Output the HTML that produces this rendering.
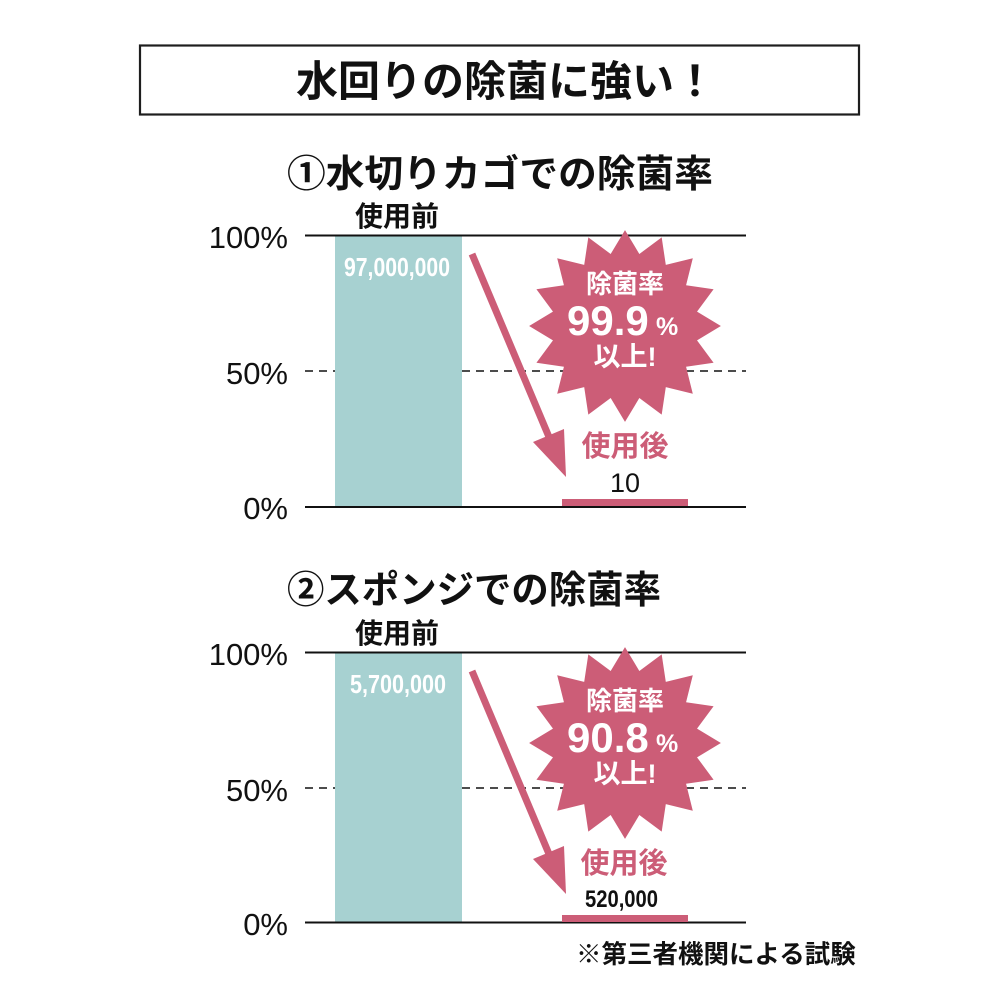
<!DOCTYPE html>
<html>
<head>
<meta charset="utf-8">
<style>
  html, body { margin: 0; padding: 0; background: #ffffff; }
  svg { display: block; }
  .jp { font-family: "Liberation Sans", "Noto Sans CJK JP", sans-serif; font-weight: 700; }
  .num { font-family: "Liberation Sans", sans-serif; }
</style>
</head>
<body>
<svg width="1000" height="1000" viewBox="0 0 1000 1000" xmlns="http://www.w3.org/2000/svg">
  <rect x="0" y="0" width="1000" height="1000" fill="#ffffff"/>

  <!-- Title box -->
  <rect x="140" y="45.5" width="719" height="69" fill="none" stroke="#1e1e1e" stroke-width="2.2"/>
  <text class="jp" x="296" y="96" font-size="42" fill="#111">水回りの除菌に強い！</text>

  <!-- ===== Chart 1 ===== -->
  <text class="jp" x="287" y="187" font-size="38" fill="#111" textLength="426" lengthAdjust="spacingAndGlyphs">①水切りカゴでの除菌率</text>

  <rect x="335" y="236" width="127" height="271" fill="#a7d1d1"/>
  <line x1="305" y1="235.5" x2="746" y2="235.5" stroke="#111" stroke-width="2"/>
  <line x1="305" y1="371" x2="335" y2="371" stroke="#111" stroke-width="1.6" stroke-dasharray="8,6"/>
  <line x1="462" y1="371" x2="746" y2="371" stroke="#111" stroke-width="1.6" stroke-dasharray="8,6"/>
  <line x1="305" y1="507" x2="746" y2="507" stroke="#111" stroke-width="2"/>

  <text class="num" x="288" y="248" font-size="31" text-anchor="end" fill="#111">100%</text>
  <text class="num" x="288" y="384" font-size="31" text-anchor="end" fill="#111">50%</text>
  <text class="num" x="288" y="519" font-size="31" text-anchor="end" fill="#111">0%</text>

  <text class="jp" x="397" y="226" font-size="28" text-anchor="middle" fill="#111">使用前</text>
  <text class="num" x="344" y="276" font-size="26" font-weight="700" fill="#ffffff" textLength="106" lengthAdjust="spacingAndGlyphs">97,000,000</text>

  <rect x="562" y="499" width="126" height="7" fill="#cc5d77"/>
  <text class="jp" x="625" y="456" font-size="29" text-anchor="middle" fill="#cc5d77">使用後</text>
  <text class="num" x="625" y="492" font-size="27" text-anchor="middle" fill="#111">10</text>

  <line x1="472" y1="254" x2="549" y2="437" stroke="#cc5d77" stroke-width="7"/>
  <polygon points="564,429 566,477 533,442" fill="#cc5d77"/>

  <polygon transform="translate(625,326) scale(1.02)" fill="#cc5d77"
    points="0,-94 14.05,-70.62 35.97,-86.84 40,-59.87 66.47,-66.47 59.87,-40 86.84,-35.97 70.62,-14.05 94,0 70.62,14.05 86.84,35.97 59.87,40 66.47,66.47 40,59.87 35.97,86.84 14.05,70.62 0,94 -14.05,70.62 -35.97,86.84 -40,59.87 -66.47,66.47 -59.87,40 -86.84,35.97 -70.62,14.05 -94,0 -70.62,-14.05 -86.84,-35.97 -59.87,-40 -66.47,-66.47 -40,-59.87 -35.97,-86.84 -14.05,-70.62"/>
  <text class="jp" x="625" y="293" font-size="26" text-anchor="middle" fill="#ffffff">除菌率</text>
  <text class="num" x="567" y="335" font-size="42" font-weight="700" fill="#ffffff">99.9</text>
  <text class="num" x="656" y="335" font-size="25" font-weight="700" fill="#ffffff">%</text>
  <text class="jp" x="625" y="366" font-size="27" text-anchor="middle" fill="#ffffff">以上!</text>

  <!-- ===== Chart 2 ===== -->
  <text class="jp" x="287" y="603" font-size="38" fill="#111" textLength="374" lengthAdjust="spacingAndGlyphs">②スポンジでの除菌率</text>

  <rect x="335" y="653" width="127" height="269" fill="#a7d1d1"/>
  <line x1="305" y1="652.5" x2="746" y2="652.5" stroke="#111" stroke-width="2"/>
  <line x1="305" y1="788" x2="335" y2="788" stroke="#111" stroke-width="1.6" stroke-dasharray="8,6"/>
  <line x1="462" y1="788" x2="746" y2="788" stroke="#111" stroke-width="1.6" stroke-dasharray="8,6"/>
  <line x1="305" y1="922.5" x2="746" y2="922.5" stroke="#111" stroke-width="2"/>

  <text class="num" x="288" y="665" font-size="31" text-anchor="end" fill="#111">100%</text>
  <text class="num" x="288" y="801" font-size="31" text-anchor="end" fill="#111">50%</text>
  <text class="num" x="288" y="935" font-size="31" text-anchor="end" fill="#111">0%</text>

  <text class="jp" x="397" y="643" font-size="28" text-anchor="middle" fill="#111">使用前</text>
  <text class="num" x="350" y="693" font-size="26" font-weight="700" fill="#ffffff" textLength="96" lengthAdjust="spacingAndGlyphs">5,700,000</text>

  <rect x="562" y="915" width="126" height="7" fill="#cc5d77"/>
  <text class="jp" x="624" y="873" font-size="29" text-anchor="middle" fill="#cc5d77">使用後</text>
  <text class="num" x="585" y="907" font-size="24" font-weight="700" fill="#111" textLength="73" lengthAdjust="spacingAndGlyphs">520,000</text>

  <line x1="472" y1="671" x2="549" y2="854" stroke="#cc5d77" stroke-width="7"/>
  <polygon points="564,846 566,894 533,859" fill="#cc5d77"/>

  <polygon transform="translate(625,743) scale(1.02)" fill="#cc5d77"
    points="0,-94 14.05,-70.62 35.97,-86.84 40,-59.87 66.47,-66.47 59.87,-40 86.84,-35.97 70.62,-14.05 94,0 70.62,14.05 86.84,35.97 59.87,40 66.47,66.47 40,59.87 35.97,86.84 14.05,70.62 0,94 -14.05,70.62 -35.97,86.84 -40,59.87 -66.47,66.47 -59.87,40 -86.84,35.97 -70.62,14.05 -94,0 -70.62,-14.05 -86.84,-35.97 -59.87,-40 -66.47,-66.47 -40,-59.87 -35.97,-86.84 -14.05,-70.62"/>
  <text class="jp" x="625" y="710" font-size="26" text-anchor="middle" fill="#ffffff">除菌率</text>
  <text class="num" x="567" y="752" font-size="42" font-weight="700" fill="#ffffff">90.8</text>
  <text class="num" x="656" y="752" font-size="25" font-weight="700" fill="#ffffff">%</text>
  <text class="jp" x="625" y="783" font-size="27" text-anchor="middle" fill="#ffffff">以上!</text>

  <!-- footnote -->
  <text class="jp" x="576" y="963" font-size="25.5" fill="#111">※第三者機関による試験</text>
</svg>
</body>
</html>
